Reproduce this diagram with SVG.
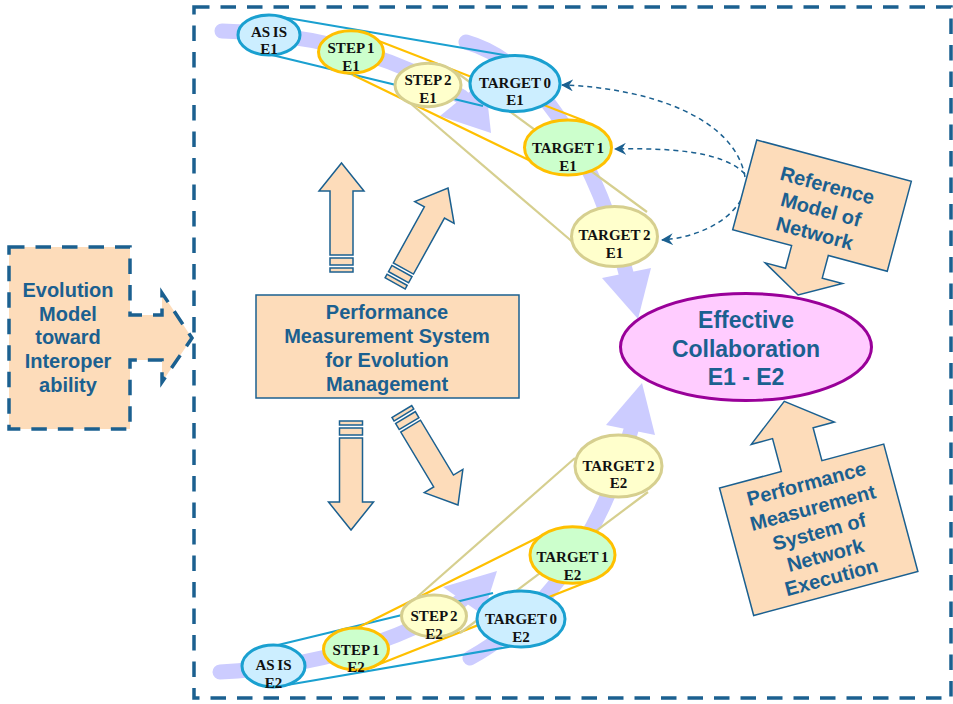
<svg xmlns="http://www.w3.org/2000/svg" width="953" height="704" viewBox="0 0 953 704">
<defs>
<style>
.frame{fill:none;stroke:#1b6090;stroke-width:3.5;stroke-dasharray:15.5 11}
.peach{fill:#fddcba;stroke:#1b6090;stroke-width:1.5}
.peachd{fill:#fddcba;stroke:#1b6090;stroke-width:3.5;stroke-dasharray:15.5 11}
.band{fill:none;stroke:#ccccff;stroke-width:15;stroke-linecap:round}
.head{fill:#ccccff}
.lb{stroke:#1aa0d0;stroke-width:2.2;fill:none}
.lg{stroke:#ffc000;stroke-width:2.2;fill:none}
.lk{stroke:#d6cf8f;stroke-width:2.2;fill:none}
.eb{fill:#cceeff;stroke:#1aa0d0;stroke-width:3}
.eg{fill:#ccffcc;stroke:#ffc000;stroke-width:3}
.ek{fill:#ffffcc;stroke:#d6cf8f;stroke-width:3}
.et{font-family:"Liberation Serif","Times New Roman",serif;font-weight:bold;font-size:15px;word-spacing:-1px;fill:#111;text-anchor:middle}
.bt{font-family:"Liberation Sans",Arial,sans-serif;font-weight:bold;font-size:20px;fill:#1b6090;text-anchor:middle}
.ct{font-family:"Liberation Sans",Arial,sans-serif;font-weight:bold;font-size:23px;fill:#1b6090;text-anchor:middle}
.dash{fill:none;stroke:#1b6090;stroke-width:1.5;stroke-dasharray:5 4}
</style>
<marker id="ah" viewBox="0 0 12 12" refX="11" refY="6" markerWidth="12" markerHeight="12" markerUnits="userSpaceOnUse" orient="auto">
<path d="M0,0 L12,6 L0,12 L4,6 z" fill="#1b6090"/>
</marker>
<g id="uparrow">
<path d="M0,0 L22.5,28 L11.5,28 L11.5,92 L-11.5,92 L-11.5,28 L-22.5,28 Z"/>
<rect x="-11.5" y="95" width="23" height="7"/>
<rect x="-11.5" y="105" width="23" height="4"/>
</g>
</defs>

<rect class="frame" x="194" y="7" width="757" height="691"/>

<g id="evolution-model">
<path class="peachd" d="M9,247 L130,247 L130,315 L162,315 L162,293 L192,338 L162,382 L162,360 L130,360 L130,429 L9,429 Z"/>
<text class="bt" x="68" y="297">Evolution</text>
<text class="bt" x="68" y="321">Model</text>
<text class="bt" x="68" y="344">toward</text>
<text class="bt" x="68" y="368">Interoper</text>
<text class="bt" x="68" y="392">ability</text>
</g>

<g id="connectors">
<path class="band" d="M222,31 Q360,35 462,97"/>
<path class="head" d="M440,116 L485,79 L491,133 Z"/>
<path class="band" d="M466,42 C530,60 590,140 626,273"/>
<path class="head" d="M602,278 L651,268 L638,319 Z"/>
<path class="band" d="M220,672 C300,668 400,645 462,600"/>
<path class="head" d="M443,587 L483,615 L497,571 Z"/>
<path class="band" d="M470,658 C540,620 600,540 631,430"/>
<path class="head" d="M606,425 L655,435 L642,383 Z"/>

<line class="lb" x1="273" y1="15.5" x2="510" y2="56"/>
<line class="lb" x1="272" y1="55" x2="483" y2="106"/>
<line class="lg" x1="353" y1="31" x2="585" y2="121"/>
<line class="lg" x1="353" y1="75" x2="535" y2="163"/>
<line class="lk" x1="456" y1="72" x2="647" y2="212"/>
<line class="lk" x1="410" y1="103" x2="575" y2="244"/>

<line class="lb" x1="278" y1="645" x2="493" y2="593"/>
<line class="lb" x1="287" y1="685" x2="513" y2="646"/>
<line class="lg" x1="357" y1="628" x2="547" y2="533"/>
<line class="lg" x1="367" y1="669" x2="587" y2="582"/>
<line class="lk" x1="417" y1="597" x2="575" y2="458"/>
<line class="lk" x1="460" y1="633" x2="648" y2="492"/>

<path class="dash" d="M745,177 C735,118 650,88 562,85" marker-end="url(#ah)"/>
<path class="dash" d="M745,174 C722,150 665,148 615,149" marker-end="url(#ah)"/>
<path class="dash" d="M741,200 C726,225 692,238 662,240" marker-end="url(#ah)"/>
</g>

<g id="pms-arrows" class="peach">
<use href="#uparrow" transform="translate(341.5,163)"/>
<use href="#uparrow" transform="translate(448,188) rotate(29)"/>
<use href="#uparrow" transform="translate(351,530) rotate(180)"/>
<use href="#uparrow" transform="translate(458,505) rotate(149)"/>
</g>

<g id="pms-evolution">
<rect class="peach" x="256" y="295" width="263" height="103"/>
<text class="bt" x="387" y="319">Performance</text>
<text class="bt" x="387" y="343">Measurement System</text>
<text class="bt" x="387" y="367">for Evolution</text>
<text class="bt" x="387" y="391">Management</text>
</g>

<g id="asis-e1"><ellipse class="eb" cx="269" cy="35" rx="31" ry="20"/><text class="et" x="269" y="36.5">AS IS</text><text class="et" x="269" y="54">E1</text></g>
<g id="step1-e1"><ellipse class="eg" cx="351" cy="52" rx="32.5" ry="21.3"/><text class="et" x="351" y="53">STEP 1</text><text class="et" x="351" y="70.5">E1</text></g>
<g id="step2-e1"><ellipse class="ek" cx="428" cy="85" rx="33" ry="21.7"/><text class="et" x="428" y="85">STEP 2</text><text class="et" x="428" y="102.5">E1</text></g>
<g id="target0-e1"><ellipse class="eb" cx="515" cy="83.5" rx="45" ry="28"/><text class="et" x="515" y="87.5">TARGET 0</text><text class="et" x="515" y="105">E1</text></g>
<g id="target1-e1"><ellipse class="eg" cx="568" cy="147.5" rx="43.5" ry="27.5"/><text class="et" x="568" y="153">TARGET 1</text><text class="et" x="568" y="170.5">E1</text></g>
<g id="target2-e1"><ellipse class="ek" cx="614.5" cy="236.5" rx="43" ry="30"/><text class="et" x="614.5" y="240">TARGET 2</text><text class="et" x="614.5" y="257.5">E1</text></g>

<g id="asis-e2"><ellipse class="eb" cx="273.5" cy="666" rx="31.5" ry="21"/><text class="et" x="273.5" y="670">AS IS</text><text class="et" x="273.5" y="687.5">E2</text></g>
<g id="step1-e2"><ellipse class="eg" cx="356" cy="649" rx="32.5" ry="21"/><text class="et" x="356" y="654.5">STEP 1</text><text class="et" x="356" y="672">E2</text></g>
<g id="step2-e2"><ellipse class="ek" cx="434" cy="616" rx="32.5" ry="21"/><text class="et" x="434" y="621">STEP 2</text><text class="et" x="434" y="638.5">E2</text></g>
<g id="target0-e2"><ellipse class="eb" cx="521" cy="619" rx="44" ry="28"/><text class="et" x="521" y="624">TARGET 0</text><text class="et" x="521" y="641.5">E2</text></g>
<g id="target1-e2"><ellipse class="eg" cx="572.5" cy="555" rx="42.5" ry="28.3"/><text class="et" x="572.5" y="562">TARGET 1</text><text class="et" x="572.5" y="579.5">E2</text></g>
<g id="target2-e2"><ellipse class="ek" cx="618.5" cy="466" rx="43.5" ry="31"/><text class="et" x="618.5" y="470.5">TARGET 2</text><text class="et" x="618.5" y="488">E2</text></g>

<g id="effective-collaboration">
<ellipse cx="746" cy="347" rx="125.5" ry="53.5" fill="#ffccff" stroke="#990099" stroke-width="3"/>
<text class="ct" x="746" y="328">Effective</text>
<text class="ct" x="746" y="357">Collaboration</text>
<text class="ct" x="746" y="385">E1 - E2</text>
</g>

<g id="reference-model" transform="translate(822,205.6) rotate(15)">
<path class="peach" d="M-80,-46.5 L80,-46.5 L80,46.5 L19,46.5 L19,70 L40,70 L0,92.5 L-40,70 L-19,70 L-19,46.5 L-80,46.5 Z"/>
<text class="bt" x="0" y="-14">Reference</text>
<text class="bt" x="0" y="11">Model of</text>
<text class="bt" x="0" y="35.5">Network</text>
</g>

<g id="pms-network" transform="translate(818.7,529.8) rotate(-15)">
<path class="peach" d="M-85,66 L-85,-66 L-21,-66 L-21,-100 L-43,-100 L0,-133 L43,-100 L21,-100 L21,-66 L85,-66 L85,66 Z"/>
<text class="bt" x="0" y="-41">Performance</text>
<text class="bt" x="0" y="-16">Measurement</text>
<text class="bt" x="0" y="9">System of</text>
<text class="bt" x="0" y="33">Network</text>
<text class="bt" x="0" y="56">Execution</text>
</g>
</svg>
